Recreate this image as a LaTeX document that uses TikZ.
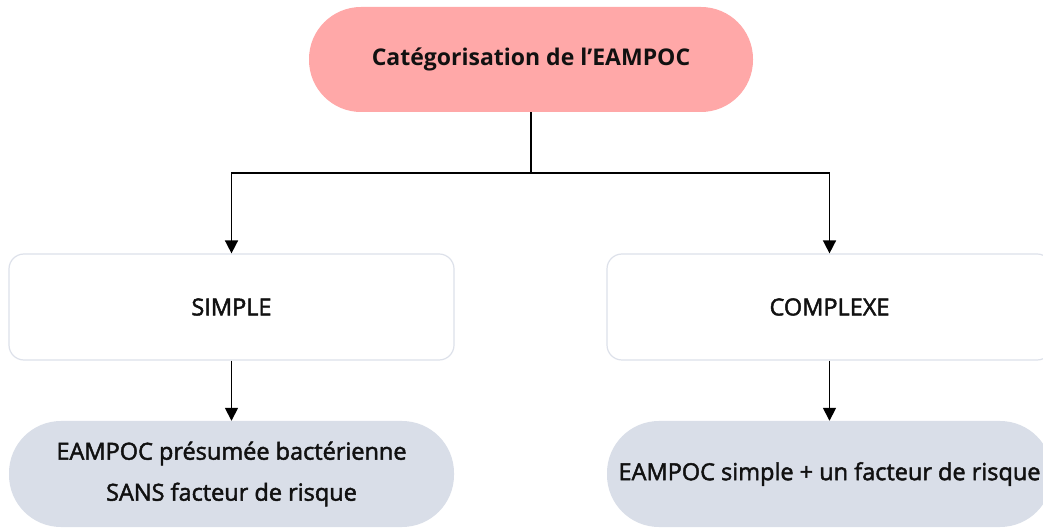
\documentclass[tikz,border=0pt]{standalone}
\usepackage{fontspec}
\setmainfont{Open Sans}
\newfontfamily\medfont{Open Sans}[FakeBold=2]
\usetikzlibrary{arrows.meta}
\definecolor{titlefill}{HTML}{FFA8A8}
\definecolor{leaffill}{HTML}{D9DEE8}
\definecolor{boxline}{HTML}{DDE1EA}
\definecolor{txt}{HTML}{111111}
\tikzset{
  pill/.style={rounded corners=52pt, minimum width=445pt, minimum height=106pt, inner sep=0pt, align=center, text=txt, font=\medfont\fontsize{23.5}{41}\selectfont},
  titlebox/.style={pill, fill=titlefill, minimum width=444pt, minimum height=105pt, font=\bfseries\fontsize{23}{41}\selectfont},
  catbox/.style={draw=boxline, line width=1.2pt, fill=white, rounded corners=15pt, minimum width=445pt, minimum height=106pt, inner sep=0pt, text=txt, font=\medfont\fontsize{23.5}{41}\selectfont},
  leafbox/.style={pill, fill=leaffill},
  conn/.style={line width=1.6pt, black},
  arr/.style={conn, -{Triangle[width=13pt,length=13pt]}}
}
\begin{document}
\begin{tikzpicture}[x=1pt,y=1pt]
\useasboundingbox (0,0) rectangle (1043,527);
\clip (0,0) rectangle (1043,527);
\fill[white] (0,0) rectangle (1043,527);
\node[titlebox] (title) at (531,467.5) {Catégorisation de l’EAMPOC};
\node[catbox] (simple) at (231.5,220) {SIMPLE};
\node[catbox] (complexe) at (829.5,220) {COMPLEXE};
\node[leafbox] (sansrisque) at (231.5,53) {EAMPOC présumée bactérienne\\SANS facteur de risque};
\node[leafbox] (avecrisque) at (829.5,53) {EAMPOC simple + un facteur de risque};
\coordinate (junction) at (531,354);
\draw[conn] (title.south) -- (junction);
\draw[arr] (junction) -| (simple.north);
\draw[arr] (junction) -| (complexe.north);
\draw[arr] (simple.south) -- (sansrisque.north);
\draw[arr] (complexe.south) -- (avecrisque.north);
\end{tikzpicture}
\end{document}
